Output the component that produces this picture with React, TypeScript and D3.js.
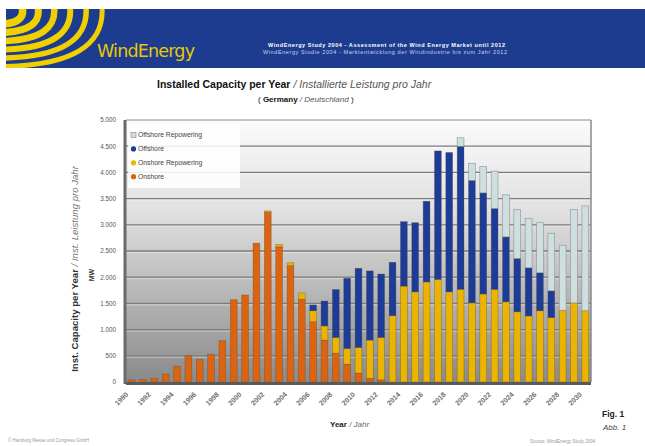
import React from "react";
import * as d3 from "d3";

const years = [
  1990, 1991, 1992, 1993, 1994, 1995, 1996, 1997, 1998, 1999, 2000, 2001, 2002, 2003,
  2004, 2005, 2006, 2007, 2008, 2009, 2010, 2011, 2012, 2013, 2014, 2015, 2016, 2017,
  2018, 2019, 2020, 2021, 2022, 2023, 2024, 2025, 2026, 2027, 2028, 2029, 2030,
];

// MW per year (bottom to top)
const onshore = [
  40, 50, 70, 150, 300, 500, 430, 530, 790, 1570, 1660, 2650, 3240, 2580,
  2220, 1580, 1150, 800, 550, 340, 170, 70, 40, 0, 0, 0, 0, 0,
  0, 0, 0, 0, 0, 0, 0, 0, 0, 0, 0, 0, 0,
];
const onshoreRepowering = [
  0, 0, 0, 0, 0, 0, 0, 0, 0, 0, 0, 0, 25, 45,
  55, 120, 210, 270, 300, 300, 490, 730, 810, 1265, 1830, 1720, 1910, 1960,
  1720, 1770, 1510, 1680, 1770, 1530, 1340, 1260, 1360, 1230, 1370, 1510, 1360,
];
const offshore = [
  0, 0, 0, 0, 0, 0, 0, 0, 0, 0, 0, 0, 0, 0,
  0, 0, 110, 475, 915, 1340, 1510, 1320, 1210, 1020, 1230, 1320, 1540, 2450,
  2660, 2730, 2340, 1930, 1545, 1240, 1020, 920, 725, 510, 0, 0, 0,
];
const offshoreRepowering = [
  0, 0, 0, 0, 0, 0, 0, 0, 0, 0, 0, 0, 0, 0,
  0, 0, 0, 0, 0, 0, 0, 0, 0, 0, 0, 0, 0, 0,
  0, 160, 320, 500, 710, 800, 935, 940, 955, 1100, 1240, 1780, 2000,
];

const yTicks = [0, 500, 1000, 1500, 2000, 2500, 3000, 3500, 4000, 4500, 5000];
const tickLabels = ["0", "500", "1.000", "1.500", "2.000", "2.500", "3.000", "3.500", "4.000", "4.500", "5.000"];
const xLabelYears = years.filter((y) => y % 2 === 0);

const seriesKeys = ["onshore", "onshoreRepowering", "offshore", "offshoreRepowering"];
const colors: Record<string, string> = {
  onshore: "#dc6410",
  onshoreRepowering: "#eab400",
  offshore: "#1c3c98",
  offshoreRepowering: "#cfdfdf",
};
const legendItems = [
  { key: "offshoreRepowering", label: "Offshore Repowering" },
  { key: "offshore", label: "Offshore" },
  { key: "onshoreRepowering", label: "Onshore Repowering" },
  { key: "onshore", label: "Onshore" },
];

const W = 645;
const H = 446;
const font = "'Liberation Sans', Arial, sans-serif";

export default function App() {
  const rows = years.map((yr, i) => ({
    year: yr,
    onshore: onshore[i],
    onshoreRepowering: onshoreRepowering[i],
    offshore: offshore[i],
    offshoreRepowering: offshoreRepowering[i],
  }));
  const stacked = d3.stack<any>().keys(seriesKeys)(rows);

  const left = 126;
  const right = 591;
  const top = 120;
  const bottom = 382;

  const x = d3
    .scaleBand<number>()
    .domain(years)
    .range([left, right])
    .paddingInner(0.4)
    .paddingOuter(0.2);
  const y = d3.scaleLinear().domain([0, 5000]).range([bottom, top]);

  // decorative logo arcs in the banner
  const swooshes = [0, 1, 2, 3, 4, 5].map((i) => {
    const xt = 22 + i * 16;
    const yb = 20 + i * 8.5;
    return `M${xt},7 Q${xt + 4},${yb + 2} 4,${yb + 4}`;
  });

  return (
    <div style={{ position: "fixed", left: 0, top: 0 }}>
      <svg width={W} height={H} style={{ display: "block", background: "#fff" }} fontFamily={font}>
        <defs>
          <linearGradient id="plotBg" x1="0" y1="0" x2="0" y2="1">
            <stop offset="0" stopColor="#fbfbfb" />
            <stop offset="0.35" stopColor="#e0e0e0" />
            <stop offset="1" stopColor="#8a8a8a" />
          </linearGradient>
          <clipPath id="bannerClip">
            <rect x={6} y={9} width={W - 6} height={59} />
          </clipPath>
        </defs>

        {/* banner */}
        <rect x={6} y={9} width={W - 6} height={59} fill="#1d3c90" />
        <g clipPath="url(#bannerClip)">
          {swooshes.map((d, i) => (
            <path key={i} d={d} fill="none" stroke="#f1d000" strokeWidth={7.5 - i * 0.5} />
          ))}
        </g>
        <text x={97} y={57} fontSize={17.5} fill="#e9c800" fontFamily="'DejaVu Sans', sans-serif" textLength={98}>
          WindEnergy
        </text>
        <text x={268} y={47} fontSize={5.5} fontWeight="bold" fill="#ffffff" textLength={237}>
          WindEnergy Study 2004 - Assessment of the Wind Energy Market until 2012
        </text>
        <text x={263} y={54} fontSize={5.5} fill="#c9d2f0" textLength={244}>
          WindEnergy Studie 2004 - Marktentwicklung der Windindustrie bis zum Jahr 2012
        </text>

        {/* titles */}
        <text x={157} y={88} fontSize={10.5}>
          <tspan fontWeight="bold" fill="#111">Installed Capacity per Year</tspan>
          <tspan fontStyle="italic" fill="#555"> / Installierte Leistung pro Jahr</tspan>
        </text>
        <text x={258} y={102} fontSize={8}>
          <tspan fill="#111">( </tspan>
          <tspan fontWeight="bold" fill="#111">Germany</tspan>
          <tspan fontStyle="italic" fill="#555"> / Deutschland</tspan>
          <tspan fill="#111"> )</tspan>
        </text>

        {/* plot background */}
        <rect x={left} y={top} width={right - left} height={bottom - top} fill="url(#plotBg)" />
        {yTicks.slice(1, -1).map((t) => (
          <g key={t}>
            <line x1={left} x2={right} y1={y(t)} y2={y(t)} stroke="#7d7d7d" strokeWidth={1.3} />
            <line x1={left} x2={right} y1={y(t) + 1.5} y2={y(t) + 1.5} stroke="#ffffff" strokeOpacity={0.5} strokeWidth={0.8} />
          </g>
        ))}

        {/* bars */}
        {stacked.map((s) => (
          <g key={s.key} fill={colors[s.key]} stroke={s.key === "offshoreRepowering" ? "#8a9494" : "#5a4630"} strokeWidth={0.6}>
            {s.map((d, i) =>
              d[1] - d[0] > 0 ? (
                <rect
                  key={i}
                  x={x(d.data.year)}
                  y={y(d[1])}
                  width={x.bandwidth()}
                  height={y(d[0]) - y(d[1])}
                  strokeOpacity={s.key === "offshoreRepowering" ? 1 : 0.5}
                />
              ) : null
            )}
          </g>
        ))}

        {/* frame */}
        <line x1={left} x2={right} y1={top} y2={top} stroke="#8a8a8a" strokeWidth={1} />
        <line x1={right} x2={right} y1={top} y2={bottom} stroke="#8a8a8a" strokeWidth={1.5} />
        <line x1={left - 1} x2={left - 1} y1={top} y2={bottom + 2} stroke="#6a6a6a" strokeWidth={3} />
        <rect x={left} y={bottom} width={right - left} height={3} fill="#5a5a5a" />

        {/* legend */}
        <rect x={128} y={124} width={112} height={64} fill="#ffffff" fillOpacity={0.85} />
        {legendItems.map((it, i) => {
          const ly = 135 + i * 13.9;
          return (
            <g key={it.key}>
              {it.key === "offshoreRepowering" ? (
                <rect x={131} y={ly - 2.5} width={5} height={5} fill={colors[it.key]} stroke="#888" strokeWidth={0.6} />
              ) : (
                <circle cx={133.5} cy={ly} r={2.6} fill={colors[it.key]} />
              )}
              <text x={138} y={ly + 2.4} fontSize={6.8} fill="#444">
                {it.label}
              </text>
            </g>
          );
        })}

        {/* y axis labels */}
        {yTicks.map((t, i) => (
          <text key={t} x={116} y={y(t) + 2.3} fontSize={6.3} fill="#555" textAnchor="end">
            {tickLabels[i]}
          </text>
        ))}
        <text transform={`translate(78,${(top + bottom) / 2 + 18}) rotate(-90)`} fontSize={9.6} textAnchor="middle">
          <tspan fontWeight="bold" fill="#333">Inst. Capacity per Year</tspan>
          <tspan fontStyle="italic" fill="#777"> / Inst. Leistung pro Jahr</tspan>
        </text>
        <text transform={`translate(94,275) rotate(-90)`} fontSize={7} fontWeight="bold" fill="#333" textAnchor="middle">
          MW
        </text>

        {/* x axis labels */}
        {xLabelYears.map((yr) => {
          const cx = (x(yr) ?? 0) + x.bandwidth() / 2;
          return (
            <text
              key={yr}
              transform={`translate(${cx - 3},${bottom + 13}) rotate(-45)`}
              fontSize={7}
              fontWeight="bold"
              fill="#6e6e6e"
              textAnchor="end"
            >
              {yr}
            </text>
          );
        })}
        <text x={330} y={427} fontSize={8}>
          <tspan fontWeight="bold" fill="#222">Year</tspan>
          <tspan fontStyle="italic" fill="#666"> / Jahr</tspan>
        </text>

        {/* figure ref and footers */}
        <text x={602} y={417} fontSize={8.5} fontWeight="bold" fill="#222">Fig. 1</text>
        <text x={603} y={430} fontSize={8} fontStyle="italic" fill="#444">Abb. 1</text>
        <text x={8} y={442} fontSize={4.5} fill="#999">© Hamburg Messe und Congress GmbH</text>
        <text x={530} y={443} fontSize={4.5} fill="#999">Source: WindEnergy Study 2004</text>
      </svg>
    </div>
  );
}
